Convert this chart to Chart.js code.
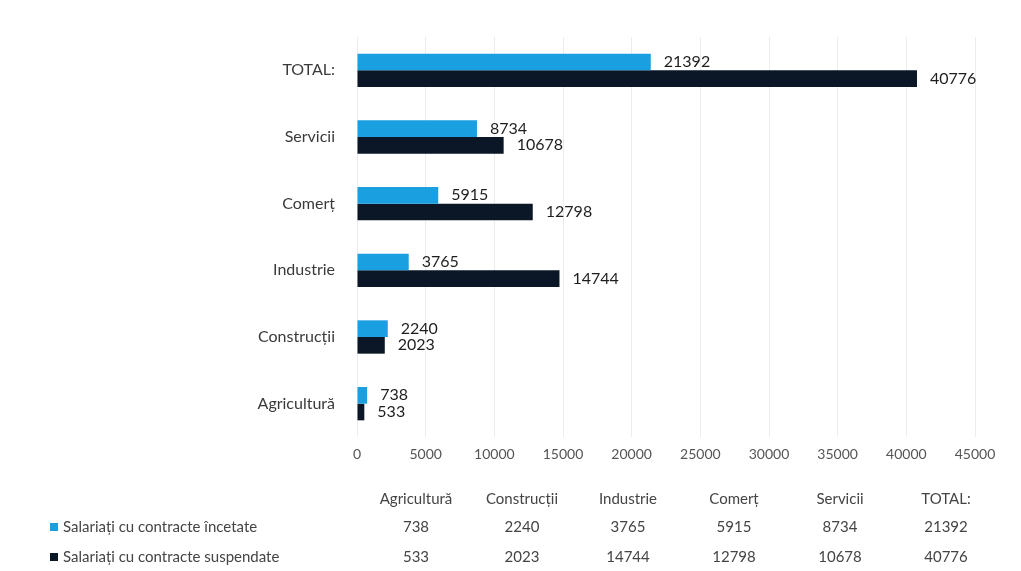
<!DOCTYPE html>
<html>
<head>
<meta charset="utf-8">
<script src="https://cdn.jsdelivr.net/npm/chart.js@4/dist/chart.umd.min.js"></script>
<style>
  html, body { margin: 0; padding: 0; background: #fff; }
  #wrap { position: relative; width: 1021px; height: 571px; overflow: hidden; font-family: Lato, "Open Sans", sans-serif; }
  #c { position: absolute; left: 0; top: 0; }
  #tbl { position: absolute; left: 50px; top: 484px; border-collapse: collapse; color: #444; font-size: 15px; }
  #tbl td { padding: 0; text-align: center; width: 106px; white-space: nowrap; }
  #tbl tr.h td { height: 28px; }
  #tbl tr.r1 td { height: 28px; }
  #tbl tr.r2 td { height: 32px; }
  #tbl td.lg { width: 313px; text-align: left; }
  .mk { display: inline-block; width: 8px; height: 8px; margin: 0 5px 0 0; vertical-align: 1px; }
</style>
</head>
<body>
<div id="wrap">
  <canvas id="c" width="1021" height="571"></canvas>
  <table id="tbl"></table>
</div>
<script>
// Data (table order, as in the reference data table)
const categories = ["Agricultură", "Construcții", "Industrie", "Comerț", "Servicii", "TOTAL:"];
const incetate = [738, 2240, 3765, 5915, 8734, 21392];
const suspendate = [533, 2023, 14744, 12798, 10678, 40776];
const seriesNames = ["Salariați cu contracte încetate", "Salariați cu contracte suspendate"];
const xTicks = [0, 5000, 10000, 15000, 20000, 25000, 30000, 35000, 40000, 45000];

const colors = ["#1a9fe0", "#0b1727"];

// Chart shows categories top-to-bottom in reverse table order
const chartLabels = categories.slice().reverse();
const chartInc = incetate.slice().reverse();
const chartSus = suspendate.slice().reverse();

const valueLabels = {
  id: 'valueLabels',
  afterDatasetsDraw(chart) {
    const ctx = chart.ctx;
    ctx.save();
    ctx.font = '16px Lato, "Open Sans", sans-serif';
    ctx.fillStyle = '#1e1e1e';
    ctx.textAlign = 'left';
    ctx.textBaseline = 'middle';
    chart.data.datasets.forEach((ds, di) => {
      const meta = chart.getDatasetMeta(di);
      meta.data.forEach((bar, i) => {
        ctx.fillText(String(ds.data[i]), bar.x + 13, bar.y);
      });
    });
    ctx.restore();
  }
};

new Chart(document.getElementById('c'), {
  type: 'bar',
  data: {
    labels: chartLabels,
    datasets: [
      { label: seriesNames[0], data: chartInc, backgroundColor: colors[0], categoryPercentage: 0.5, barPercentage: 1.0 },
      { label: seriesNames[1], data: chartSus, backgroundColor: colors[1], categoryPercentage: 0.5, barPercentage: 1.0 }
    ]
  },
  options: {
    indexAxis: 'y',
    responsive: false,
    animation: false,
    layout: { padding: { left: 0, right: 46, top: 37, bottom: 104 } },
    plugins: { legend: { display: false }, tooltip: { enabled: false } },
    scales: {
      x: {
        min: xTicks[0],
        max: xTicks[xTicks.length - 1],
        afterBuildTicks(scale) { scale.ticks = xTicks.map(v => ({ value: v })); },
        afterFit(scale) { scale.height = 30; },
        grid: { color: '#ececec', drawTicks: false },
        border: { display: false },
        ticks: { color: '#555', padding: 9, font: { family: 'Lato', size: 14 }, maxRotation: 0, autoSkip: false,
                 callback: (v) => String(v) }
      },
      y: {
        afterFit(scale) { scale.width = 357; },
        grid: { display: false },
        border: { display: false },
        ticks: { color: '#3a3a3a', padding: 14, font: { family: 'Lato', size: 16 } }
      }
    }
  },
  plugins: [valueLabels]
});

// Data table below the chart
const tbl = document.getElementById('tbl');
let html = '<tr class="h"><td class="lg"></td>' + categories.map(c => '<td>' + c + '</td>').join('') + '</tr>';
[incetate, suspendate].forEach((arr, si) => {
  html += '<tr class="r' + (si + 1) + '"><td class="lg"><span class="mk" style="background:' + colors[si] + '"></span>' + seriesNames[si] + '</td>' +
    arr.map(v => '<td>' + v + '</td>').join('') + '</tr>';
});
tbl.innerHTML = html;
</script>
</body>
</html>
